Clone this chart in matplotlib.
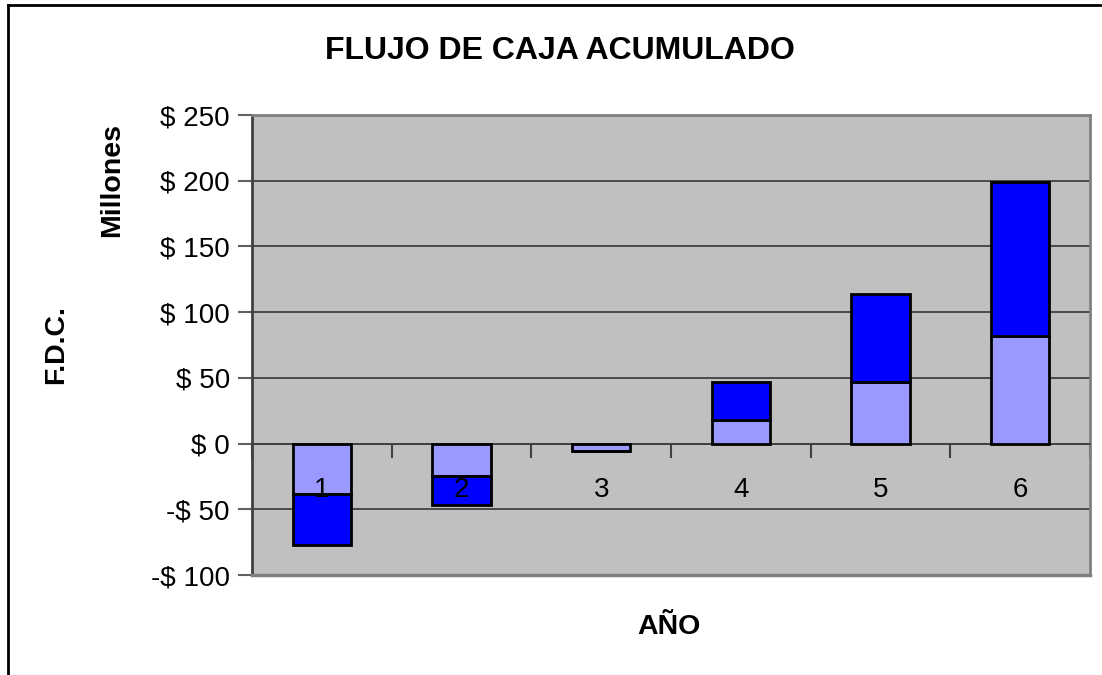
import matplotlib
matplotlib.use("Agg")
import matplotlib.pyplot as plt
from matplotlib.lines import Line2D
from matplotlib.ticker import FixedLocator, FuncFormatter, NullFormatter

plt.rcParams['font.family'] = ['Liberation Sans', 'DejaVu Sans']

years = ["1", "2", "3", "4", "5", "6"]
flujo_anual = [-38, -24.5, -6, 18, 47, 82]
flujo_extra = [-39.5, -22, 0, 29, 67, 117]

title = "FLUJO DE CAJA ACUMULADO"
xlabel = "AÑO"
ylabel1 = "F.D.C."
ylabel2 = "Millones"
yticks = [-100, -50, 0, 50, 100, 150, 200, 250]

W, H = 1102, 675
fig = plt.figure(figsize=(W / 100, H / 100), dpi=100)
L, R, T, B = 252, 1090, 115, 575
ax = fig.add_axes([L / W, 1 - B / H, (R - L) / W, (B - T) / H])
ax.set_facecolor("#C0C0C0")

x = list(range(len(years)))
ax.bar(x, flujo_anual, width=0.42, color="#9999FF", edgecolor="black", linewidth=2, zorder=3)
ax.bar(x, flujo_extra, width=0.42, bottom=flujo_anual, color="#0000FF", edgecolor="black", linewidth=2, zorder=3)

ax.set_xlim(-0.5, len(years) - 0.5)
ax.set_ylim(-100, 250)

ax.yaxis.set_major_locator(FixedLocator(yticks))
ax.yaxis.set_major_formatter(FuncFormatter(lambda v, p: f"$ {int(v)}" if v >= 0 else f"-$ {int(abs(v))}"))
ax.tick_params(axis='y', direction='out', length=10, width=1.5, color="#606060", labelsize=20, pad=6)
ax.grid(axis='y', color="#404040", linewidth=1.3, zorder=1)
ax.set_axisbelow(True)

ax.spines['bottom'].set_position(('data', 0))
ax.spines['bottom'].set_color("#404040")
ax.spines['bottom'].set_linewidth(1.3)
ax.spines['left'].set_color("#404040")
ax.spines['left'].set_linewidth(2)
for s in ('top', 'right'):
    ax.spines[s].set_color("#808080")
    ax.spines[s].set_linewidth(2)
ax.add_line(Line2D([0, 1], [0, 0], transform=ax.transAxes, color="#808080", linewidth=2.5, clip_on=False, zorder=5))

ax.set_xticks([])
ax.set_xticks([i + 0.5 for i in range(-1, len(years))], minor=True)
ax.xaxis.set_minor_formatter(NullFormatter())
ax.tick_params(axis='x', which='minor', direction='out', length=10, width=1.5, color="#404040")

for i, lab in enumerate(years):
    ax.annotate(lab, xy=(i, 0), xytext=(0, -46), textcoords='offset pixels',
                ha='center', va='center', fontsize=20, zorder=6)

def fig_text(px, py, s, **kw):
    fig.text(px / W, 1 - py / H, s, ha='center', va='center', **kw)

fig_text(560, 51, title, fontsize=23, fontweight='bold')
fig_text(669, 627, xlabel, fontsize=20.5, fontweight='bold')
fig_text(112, 180, ylabel2, fontsize=20.5, fontweight='bold', rotation=90)
fig_text(56, 345, ylabel1, fontsize=20.5, fontweight='bold', rotation=90)

fig.add_artist(Line2D([8 / W, 8 / W], [0, 1 - 5 / H], transform=fig.transFigure, color="black", linewidth=2))
fig.add_artist(Line2D([8 / W, 1], [1 - 5 / H, 1 - 5 / H], transform=fig.transFigure, color="black", linewidth=2))

fig.savefig("out.png", dpi=100)
